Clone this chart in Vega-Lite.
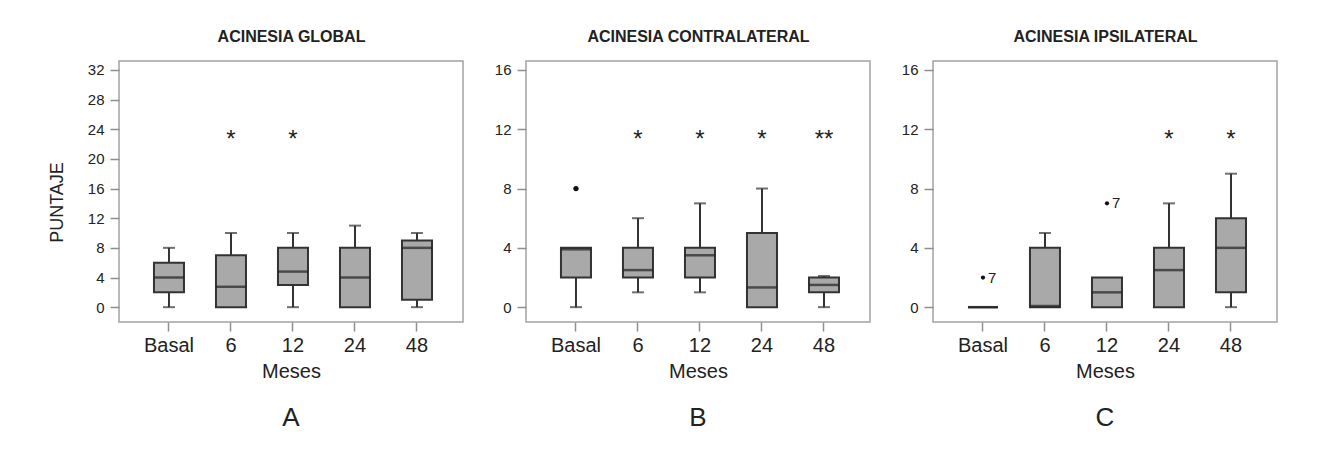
{
  "$schema": "https://vega.github.io/schema/vega-lite/v6.json",
  "background": "white",
  "padding": {"left": 47, "top": 27, "right": 5, "bottom": 5},
  "spacing": 29,
  "config": {
    "font": "Liberation Sans",
    "view": {"stroke": "#a3a3a3", "strokeWidth": 1.5},
    "axis": {"grid": false, "domain": false, "labelColor": "#222", "titleColor": "#222", "tickColor": "#8f8f8f", "tickWidth": 1.5, "labelFont": "Liberation Sans", "titleFont": "Liberation Sans"},
    "axisBottom": {"labelAngle": 0, "labelFontSize": 20, "tickSize": 9, "labelPadding": 4, "titleFontSize": 20, "titleFontWeight": "normal", "titlePadding": 6},
    "axisTop": {"labels": false, "ticks": false, "domain": false, "titleFontSize": 16, "titleFontWeight": "bold", "titlePadding": 17},
    "axisLeft": {"labelFontSize": 15, "tickSize": 9, "labelPadding": 6, "titleFontSize": 18, "titleFontWeight": "normal", "titlePadding": 21, "titleY": 141},
    "title": {"font": "Liberation Sans", "color": "#222"}
  },
  "datasets": {
    "boxes": [
      {"panel": "A", "mes": "Basal", "lo": 0, "q1": 2, "med": 4, "q3": 6, "hi": 8},
      {"panel": "A", "mes": "6", "lo": 0, "q1": 0, "med": 2.75, "q3": 7, "hi": 10},
      {"panel": "A", "mes": "12", "lo": 0, "q1": 3, "med": 4.8, "q3": 8, "hi": 10},
      {"panel": "A", "mes": "24", "lo": 0, "q1": 0, "med": 4, "q3": 8, "hi": 11},
      {"panel": "A", "mes": "48", "lo": 0, "q1": 1, "med": 8, "q3": 9, "hi": 10},
      {"panel": "B", "mes": "Basal", "lo": 0, "q1": 2, "med": 3.9, "q3": 4, "hi": 4},
      {"panel": "B", "mes": "6", "lo": 1, "q1": 2, "med": 2.5, "q3": 4, "hi": 6},
      {"panel": "B", "mes": "12", "lo": 1, "q1": 2, "med": 3.5, "q3": 4, "hi": 7},
      {"panel": "B", "mes": "24", "lo": 0, "q1": 0, "med": 1.33, "q3": 5, "hi": 8},
      {"panel": "B", "mes": "48", "lo": 0, "q1": 1, "med": 1.5, "q3": 2, "hi": 2.1},
      {"panel": "C", "mes": "Basal", "lo": 0, "q1": 0, "med": 0, "q3": 0, "hi": 0},
      {"panel": "C", "mes": "6", "lo": 0, "q1": 0, "med": 0.08, "q3": 4, "hi": 5},
      {"panel": "C", "mes": "12", "lo": 0, "q1": 0, "med": 1, "q3": 2, "hi": 2},
      {"panel": "C", "mes": "24", "lo": 0, "q1": 0, "med": 2.5, "q3": 4, "hi": 7},
      {"panel": "C", "mes": "48", "lo": 0, "q1": 1, "med": 4, "q3": 6, "hi": 9}
    ],
    "outliers": [
      {"panel": "B", "mes": "Basal", "v": 8, "lab": ""},
      {"panel": "C", "mes": "Basal", "v": 2, "lab": "7"},
      {"panel": "C", "mes": "12", "v": 7, "lab": "7"}
    ],
    "stars": [
      {"panel": "A", "mes": "6", "v": 23, "s": "*"},
      {"panel": "A", "mes": "12", "v": 23, "s": "*"},
      {"panel": "B", "mes": "6", "v": 11.5, "s": "*"},
      {"panel": "B", "mes": "12", "v": 11.5, "s": "*"},
      {"panel": "B", "mes": "24", "v": 11.5, "s": "*"},
      {"panel": "B", "mes": "48", "v": 11.5, "s": "**"},
      {"panel": "C", "mes": "24", "v": 11.5, "s": "*"},
      {"panel": "C", "mes": "48", "v": 11.5, "s": "*"}
    ]
  },
  "hconcat": [
    {
      "width": 344, "height": 261,
      "title": {"text": "A", "orient": "bottom", "frame": "group", "anchor": "middle", "fontSize": 26, "fontWeight": "normal", "offset": 24},
      "layer": [
        {
          "data": {"name": "boxes"}, "transform": [{"filter": "datum.panel === 'A'"}],
          "mark": {"type": "rule", "color": "#333", "strokeWidth": 2},
          "encoding": {
            "x": {"field": "mes", "type": "nominal", "scale": {"type": "band", "domain": ["Basal", "6", "12", "24", "48"], "paddingInner": 0.516, "paddingOuter": 0.532, "align": 0.53}, "axis": {"orient": "bottom", "title": "Meses"}},
            "y": {"field": "lo", "type": "quantitative", "scale": {"domain": [-2, 33.2], "nice": false, "zero": false}, "axis": {"orient": "left", "values": [0, 4, 8, 12, 16, 20, 24, 28, 32], "title": "PUNTAJE"}},
            "y2": {"field": "hi"}
          }
        },
        {
          "data": {"name": "boxes"}, "transform": [{"filter": "datum.panel === 'A'"}],
          "mark": {"type": "bar", "fill": "#a9a9a9", "stroke": "#333", "strokeWidth": 2},
          "encoding": {
            "x": {"field": "mes", "type": "nominal", "scale": {"type": "band", "domain": ["Basal", "6", "12", "24", "48"], "paddingInner": 0.516, "paddingOuter": 0.532, "align": 0.53}, "axis": {"orient": "top", "title": "ACINESIA GLOBAL"}},
            "y": {"field": "q1", "type": "quantitative", "scale": {"domain": [-2, 33.2], "nice": false, "zero": false}, "axis": {"orient": "left", "values": [0, 4, 8, 12, 16, 20, 24, 28, 32], "title": "PUNTAJE"}},
            "y2": {"field": "q3"}
          }
        },
        {
          "data": {"name": "boxes"}, "transform": [{"filter": "datum.panel === 'A'"}],
          "mark": {"type": "tick", "color": "#222", "thickness": 2.5, "size": 30},
          "encoding": {
            "x": {"field": "mes", "type": "nominal", "scale": {"type": "band", "domain": ["Basal", "6", "12", "24", "48"], "paddingInner": 0.516, "paddingOuter": 0.532, "align": 0.53}, "axis": null},
            "y": {"field": "med", "type": "quantitative", "scale": {"domain": [-2, 33.2], "nice": false, "zero": false}, "axis": {"orient": "left", "values": [0, 4, 8, 12, 16, 20, 24, 28, 32], "title": "PUNTAJE"}}
          }
        },
        {
          "data": {"name": "boxes"}, "transform": [{"filter": "datum.panel === 'A' && datum.lo < datum.q1"}],
          "mark": {"type": "tick", "color": "#333", "thickness": 2, "size": 12},
          "encoding": {
            "x": {"field": "mes", "type": "nominal", "scale": {"type": "band", "domain": ["Basal", "6", "12", "24", "48"], "paddingInner": 0.516, "paddingOuter": 0.532, "align": 0.53}, "axis": null},
            "y": {"field": "lo", "type": "quantitative", "scale": {"domain": [-2, 33.2], "nice": false, "zero": false}, "axis": {"orient": "left", "values": [0, 4, 8, 12, 16, 20, 24, 28, 32], "title": "PUNTAJE"}}
          }
        },
        {
          "data": {"name": "boxes"}, "transform": [{"filter": "datum.panel === 'A' && datum.hi > datum.q3"}],
          "mark": {"type": "tick", "color": "#333", "thickness": 2, "size": 12},
          "encoding": {
            "x": {"field": "mes", "type": "nominal", "scale": {"type": "band", "domain": ["Basal", "6", "12", "24", "48"], "paddingInner": 0.516, "paddingOuter": 0.532, "align": 0.53}, "axis": null},
            "y": {"field": "hi", "type": "quantitative", "scale": {"domain": [-2, 33.2], "nice": false, "zero": false}, "axis": {"orient": "left", "values": [0, 4, 8, 12, 16, 20, 24, 28, 32], "title": "PUNTAJE"}}
          }
        },
        {
          "data": {"name": "stars"}, "transform": [{"filter": "datum.panel === 'A'"}],
          "mark": {"type": "text", "fontSize": 24, "baseline": "middle", "dy": 3, "color": "#222"},
          "encoding": {
            "x": {"field": "mes", "type": "nominal", "scale": {"type": "band", "domain": ["Basal", "6", "12", "24", "48"], "paddingInner": 0.516, "paddingOuter": 0.532, "align": 0.53}, "axis": null},
            "y": {"field": "v", "type": "quantitative", "scale": {"domain": [-2, 33.2], "nice": false, "zero": false}, "axis": {"orient": "left", "values": [0, 4, 8, 12, 16, 20, 24, 28, 32], "title": "PUNTAJE"}},
            "text": {"field": "s"}
          }
        }
      ]
    },
    {
      "width": 344, "height": 261,
      "title": {"text": "B", "orient": "bottom", "frame": "group", "anchor": "middle", "fontSize": 26, "fontWeight": "normal", "offset": 24},
      "layer": [
        {
          "data": {"name": "boxes"}, "transform": [{"filter": "datum.panel === 'B'"}],
          "mark": {"type": "rule", "color": "#333", "strokeWidth": 2},
          "encoding": {
            "x": {"field": "mes", "type": "nominal", "scale": {"type": "band", "domain": ["Basal", "6", "12", "24", "48"], "paddingInner": 0.516, "paddingOuter": 0.532, "align": 0.53}, "axis": {"orient": "bottom", "title": "Meses"}},
            "y": {"field": "lo", "type": "quantitative", "scale": {"domain": [-1, 16.6], "nice": false, "zero": false}, "axis": {"orient": "left", "values": [0, 4, 8, 12, 16], "title": null}},
            "y2": {"field": "hi"}
          }
        },
        {
          "data": {"name": "boxes"}, "transform": [{"filter": "datum.panel === 'B'"}],
          "mark": {"type": "bar", "fill": "#a9a9a9", "stroke": "#333", "strokeWidth": 2},
          "encoding": {
            "x": {"field": "mes", "type": "nominal", "scale": {"type": "band", "domain": ["Basal", "6", "12", "24", "48"], "paddingInner": 0.516, "paddingOuter": 0.532, "align": 0.53}, "axis": {"orient": "top", "title": "ACINESIA CONTRALATERAL"}},
            "y": {"field": "q1", "type": "quantitative", "scale": {"domain": [-1, 16.6], "nice": false, "zero": false}, "axis": {"orient": "left", "values": [0, 4, 8, 12, 16], "title": null}},
            "y2": {"field": "q3"}
          }
        },
        {
          "data": {"name": "boxes"}, "transform": [{"filter": "datum.panel === 'B'"}],
          "mark": {"type": "tick", "color": "#222", "thickness": 2.5, "size": 30},
          "encoding": {
            "x": {"field": "mes", "type": "nominal", "scale": {"type": "band", "domain": ["Basal", "6", "12", "24", "48"], "paddingInner": 0.516, "paddingOuter": 0.532, "align": 0.53}, "axis": null},
            "y": {"field": "med", "type": "quantitative", "scale": {"domain": [-1, 16.6], "nice": false, "zero": false}, "axis": {"orient": "left", "values": [0, 4, 8, 12, 16], "title": null}}
          }
        },
        {
          "data": {"name": "boxes"}, "transform": [{"filter": "datum.panel === 'B' && datum.lo < datum.q1"}],
          "mark": {"type": "tick", "color": "#333", "thickness": 2, "size": 12},
          "encoding": {
            "x": {"field": "mes", "type": "nominal", "scale": {"type": "band", "domain": ["Basal", "6", "12", "24", "48"], "paddingInner": 0.516, "paddingOuter": 0.532, "align": 0.53}, "axis": null},
            "y": {"field": "lo", "type": "quantitative", "scale": {"domain": [-1, 16.6], "nice": false, "zero": false}, "axis": {"orient": "left", "values": [0, 4, 8, 12, 16], "title": null}}
          }
        },
        {
          "data": {"name": "boxes"}, "transform": [{"filter": "datum.panel === 'B' && datum.hi > datum.q3"}],
          "mark": {"type": "tick", "color": "#333", "thickness": 2, "size": 12},
          "encoding": {
            "x": {"field": "mes", "type": "nominal", "scale": {"type": "band", "domain": ["Basal", "6", "12", "24", "48"], "paddingInner": 0.516, "paddingOuter": 0.532, "align": 0.53}, "axis": null},
            "y": {"field": "hi", "type": "quantitative", "scale": {"domain": [-1, 16.6], "nice": false, "zero": false}, "axis": {"orient": "left", "values": [0, 4, 8, 12, 16], "title": null}}
          }
        },
        {
          "data": {"name": "outliers"}, "transform": [{"filter": "datum.panel === 'B'"}],
          "mark": {"type": "point", "filled": true, "color": "#111", "size": 28, "opacity": 1},
          "encoding": {
            "x": {"field": "mes", "type": "nominal", "scale": {"type": "band", "domain": ["Basal", "6", "12", "24", "48"], "paddingInner": 0.516, "paddingOuter": 0.532, "align": 0.53}, "axis": null},
            "y": {"field": "v", "type": "quantitative", "scale": {"domain": [-1, 16.6], "nice": false, "zero": false}, "axis": {"orient": "left", "values": [0, 4, 8, 12, 16], "title": null}}
          }
        },
        {
          "data": {"name": "stars"}, "transform": [{"filter": "datum.panel === 'B'"}],
          "mark": {"type": "text", "fontSize": 24, "baseline": "middle", "dy": 3, "color": "#222"},
          "encoding": {
            "x": {"field": "mes", "type": "nominal", "scale": {"type": "band", "domain": ["Basal", "6", "12", "24", "48"], "paddingInner": 0.516, "paddingOuter": 0.532, "align": 0.53}, "axis": null},
            "y": {"field": "v", "type": "quantitative", "scale": {"domain": [-1, 16.6], "nice": false, "zero": false}, "axis": {"orient": "left", "values": [0, 4, 8, 12, 16], "title": null}},
            "text": {"field": "s"}
          }
        }
      ]
    },
    {
      "width": 344, "height": 261,
      "title": {"text": "C", "orient": "bottom", "frame": "group", "anchor": "middle", "fontSize": 26, "fontWeight": "normal", "offset": 24},
      "layer": [
        {
          "data": {"name": "boxes"}, "transform": [{"filter": "datum.panel === 'C'"}],
          "mark": {"type": "rule", "color": "#333", "strokeWidth": 2},
          "encoding": {
            "x": {"field": "mes", "type": "nominal", "scale": {"type": "band", "domain": ["Basal", "6", "12", "24", "48"], "paddingInner": 0.516, "paddingOuter": 0.532, "align": 0.53}, "axis": {"orient": "bottom", "title": "Meses"}},
            "y": {"field": "lo", "type": "quantitative", "scale": {"domain": [-1, 16.6], "nice": false, "zero": false}, "axis": {"orient": "left", "values": [0, 4, 8, 12, 16], "title": null}},
            "y2": {"field": "hi"}
          }
        },
        {
          "data": {"name": "boxes"}, "transform": [{"filter": "datum.panel === 'C'"}],
          "mark": {"type": "bar", "fill": "#a9a9a9", "stroke": "#333", "strokeWidth": 2},
          "encoding": {
            "x": {"field": "mes", "type": "nominal", "scale": {"type": "band", "domain": ["Basal", "6", "12", "24", "48"], "paddingInner": 0.516, "paddingOuter": 0.532, "align": 0.53}, "axis": {"orient": "top", "title": "ACINESIA IPSILATERAL"}},
            "y": {"field": "q1", "type": "quantitative", "scale": {"domain": [-1, 16.6], "nice": false, "zero": false}, "axis": {"orient": "left", "values": [0, 4, 8, 12, 16], "title": null}},
            "y2": {"field": "q3"}
          }
        },
        {
          "data": {"name": "boxes"}, "transform": [{"filter": "datum.panel === 'C'"}],
          "mark": {"type": "tick", "color": "#222", "thickness": 2.5, "size": 30},
          "encoding": {
            "x": {"field": "mes", "type": "nominal", "scale": {"type": "band", "domain": ["Basal", "6", "12", "24", "48"], "paddingInner": 0.516, "paddingOuter": 0.532, "align": 0.53}, "axis": null},
            "y": {"field": "med", "type": "quantitative", "scale": {"domain": [-1, 16.6], "nice": false, "zero": false}, "axis": {"orient": "left", "values": [0, 4, 8, 12, 16], "title": null}}
          }
        },
        {
          "data": {"name": "boxes"}, "transform": [{"filter": "datum.panel === 'C' && datum.lo < datum.q1"}],
          "mark": {"type": "tick", "color": "#333", "thickness": 2, "size": 12},
          "encoding": {
            "x": {"field": "mes", "type": "nominal", "scale": {"type": "band", "domain": ["Basal", "6", "12", "24", "48"], "paddingInner": 0.516, "paddingOuter": 0.532, "align": 0.53}, "axis": null},
            "y": {"field": "lo", "type": "quantitative", "scale": {"domain": [-1, 16.6], "nice": false, "zero": false}, "axis": {"orient": "left", "values": [0, 4, 8, 12, 16], "title": null}}
          }
        },
        {
          "data": {"name": "boxes"}, "transform": [{"filter": "datum.panel === 'C' && datum.hi > datum.q3"}],
          "mark": {"type": "tick", "color": "#333", "thickness": 2, "size": 12},
          "encoding": {
            "x": {"field": "mes", "type": "nominal", "scale": {"type": "band", "domain": ["Basal", "6", "12", "24", "48"], "paddingInner": 0.516, "paddingOuter": 0.532, "align": 0.53}, "axis": null},
            "y": {"field": "hi", "type": "quantitative", "scale": {"domain": [-1, 16.6], "nice": false, "zero": false}, "axis": {"orient": "left", "values": [0, 4, 8, 12, 16], "title": null}}
          }
        },
        {
          "data": {"name": "outliers"}, "transform": [{"filter": "datum.panel === 'C'"}],
          "mark": {"type": "point", "filled": true, "color": "#111", "size": 18, "opacity": 1},
          "encoding": {
            "x": {"field": "mes", "type": "nominal", "scale": {"type": "band", "domain": ["Basal", "6", "12", "24", "48"], "paddingInner": 0.516, "paddingOuter": 0.532, "align": 0.53}, "axis": null},
            "y": {"field": "v", "type": "quantitative", "scale": {"domain": [-1, 16.6], "nice": false, "zero": false}, "axis": {"orient": "left", "values": [0, 4, 8, 12, 16], "title": null}}
          }
        },
        {
          "data": {"name": "outliers"}, "transform": [{"filter": "datum.panel === 'C'"}],
          "mark": {"type": "text", "fontSize": 15, "baseline": "middle", "align": "left", "dx": 5, "color": "#222"},
          "encoding": {
            "x": {"field": "mes", "type": "nominal", "scale": {"type": "band", "domain": ["Basal", "6", "12", "24", "48"], "paddingInner": 0.516, "paddingOuter": 0.532, "align": 0.53}, "axis": null},
            "y": {"field": "v", "type": "quantitative", "scale": {"domain": [-1, 16.6], "nice": false, "zero": false}, "axis": {"orient": "left", "values": [0, 4, 8, 12, 16], "title": null}},
            "text": {"field": "lab"}
          }
        },
        {
          "data": {"name": "stars"}, "transform": [{"filter": "datum.panel === 'C'"}],
          "mark": {"type": "text", "fontSize": 24, "baseline": "middle", "dy": 3, "color": "#222"},
          "encoding": {
            "x": {"field": "mes", "type": "nominal", "scale": {"type": "band", "domain": ["Basal", "6", "12", "24", "48"], "paddingInner": 0.516, "paddingOuter": 0.532, "align": 0.53}, "axis": null},
            "y": {"field": "v", "type": "quantitative", "scale": {"domain": [-1, 16.6], "nice": false, "zero": false}, "axis": {"orient": "left", "values": [0, 4, 8, 12, 16], "title": null}},
            "text": {"field": "s"}
          }
        }
      ]
    }
  ]
}
